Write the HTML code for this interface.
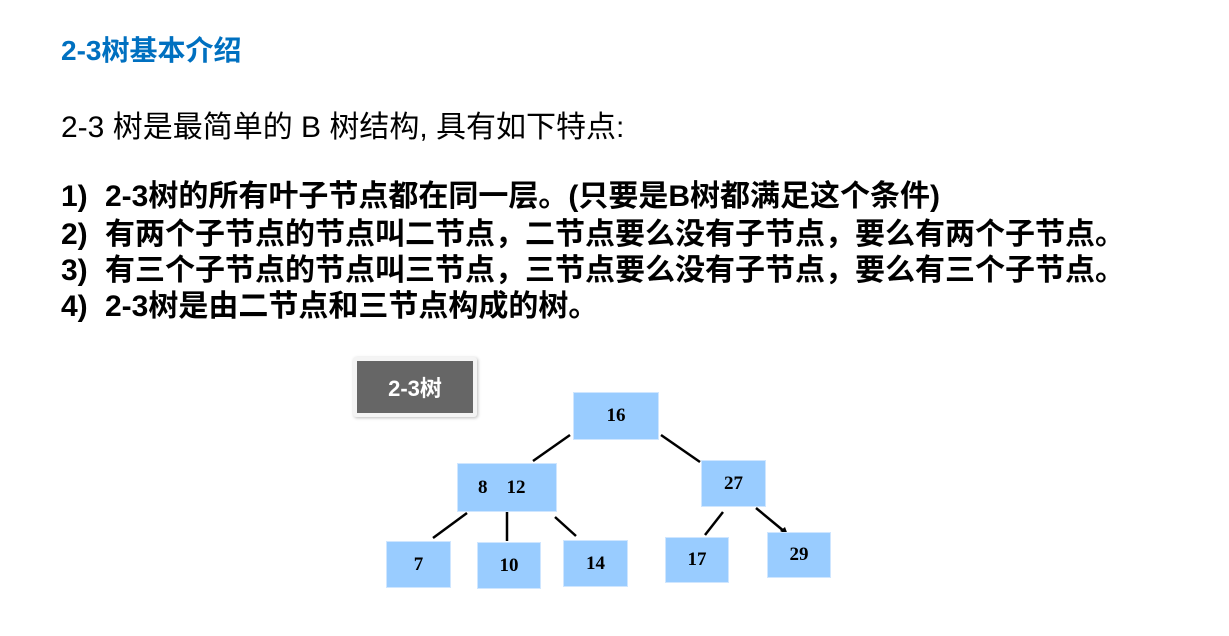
<!DOCTYPE html>
<html><head><meta charset="utf-8"><style>
body{margin:0;width:1229px;height:636px;background:#fff;position:relative;overflow:hidden;font-family:"Liberation Sans","Noto Sans CJK SC",sans-serif}
.t{position:absolute;white-space:nowrap;line-height:1}
.li{position:absolute;left:61px;font-weight:bold;font-size:30px;white-space:nowrap;line-height:1;color:#000}
.li span{position:absolute;left:44px}
.n{position:absolute;background:#99ccff;border:1px solid #cfe6ff;box-sizing:border-box;display:flex;align-items:center;justify-content:center;font-family:"Liberation Serif",serif;font-weight:bold;font-size:18px;color:#000}
</style></head><body>
<div class="t" style="left:61px;top:37px;font-size:28px;font-weight:bold;color:#0070c0">2-3树基本介绍</div>
<div class="t" style="left:61px;top:113px;font-size:30px;color:#000">2-3 树是最简单的 B 树结构, 具有如下特点:</div>
<div class="li" style="top:182px">1)<span>2-3树的所有叶子节点都在同一层。(只要是B树都满足这个条件)</span></div>
<div class="li" style="top:220px">2)<span>有两个子节点的节点叫二节点，二节点要么没有子节点，要么有两个子节点。</span></div>
<div class="li" style="top:256px">3)<span>有三个子节点的节点叫三节点，三节点要么没有子节点，要么有三个子节点。</span></div>
<div class="li" style="top:292px">4)<span>2-3树是由二节点和三节点构成的树。</span></div>

<div style="position:absolute;left:353px;top:357px;width:124px;height:60px;background:#f4f4f4;border-radius:3px;box-shadow:1px 1px 3px #bbb"></div>
<div style="position:absolute;left:357px;top:361px;width:116px;height:52px;background:#666;color:#fff;font-weight:bold;font-size:22px;display:flex;align-items:center;justify-content:center">2-3树</div>

<svg style="position:absolute;left:0;top:0" width="1229" height="636">
<g stroke="#000" stroke-width="2.5">
<line x1="570" y1="435" x2="533" y2="461"/>
<line x1="661" y1="435" x2="700" y2="462"/>
<line x1="467" y1="513" x2="433" y2="538"/>
<line x1="507" y1="512" x2="507" y2="541"/>
<line x1="555" y1="517" x2="576" y2="536"/>
<line x1="723" y1="512" x2="705" y2="535"/>
<line x1="756" y1="508" x2="785" y2="532"/>
</g>
<polygon points="788,535 780,531 785,527" fill="#000"/>
</svg>

<div class="n" style="left:573px;top:392px;width:86px;height:48px;font-size:19px">16</div>
<div class="n" style="left:457px;top:463px;width:100px;height:49px;justify-content:flex-start;padding-left:20px;font-size:19px">8&nbsp;&nbsp;&nbsp;&nbsp;12</div>
<div class="n" style="left:701px;top:460px;width:65px;height:47px;font-size:19px">27</div>
<div class="n" style="left:386px;top:541px;width:65px;height:47px;font-size:19px">7</div>
<div class="n" style="left:477px;top:542px;width:64px;height:47px;font-size:19px">10</div>
<div class="n" style="left:563px;top:540px;width:65px;height:47px;font-size:19px">14</div>
<div class="n" style="left:665px;top:537px;width:64px;height:46px;font-size:19px">17</div>
<div class="n" style="left:767px;top:532px;width:64px;height:46px;font-size:19px">29</div>
</body></html>
